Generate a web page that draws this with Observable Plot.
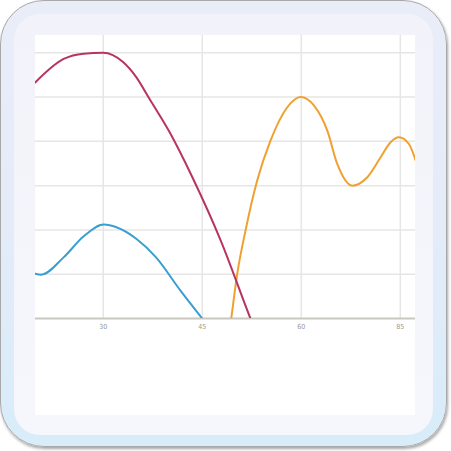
<!DOCTYPE html>
<html>
<head>
<meta charset="utf-8">
<script src="https://cdn.jsdelivr.net/npm/d3@7"></script>
<script src="https://cdn.jsdelivr.net/npm/@observablehq/plot@0.6"></script>
<style>
  html, body { margin: 0; padding: 0; background: #ffffff; width: 451px; height: 451px; overflow: hidden; }
  #outer {
    position: absolute; left: 0; top: 0; width: 445px; height: 445px;
    border-radius: 44px; border: 1px solid #a8a8a8;
    box-shadow: 1px 2px 3px rgba(0,0,0,0.35);
    background: linear-gradient(to bottom, #eaedf8 0%, #e4ecf8 50%, #d8ecfa 100%);
  }
  #inner {
    position: absolute; left: 14px; top: 14px; width: 419px; height: 421px;
    border-radius: 26px;
    background: linear-gradient(to bottom, #f2f3fa, #f6f7fc);
  }
  #chart { position: absolute; left: 35px; top: 35px; width: 380px; height: 380px; background: #ffffff; }
  #chart svg { display: block; }
</style>
</head>
<body>
<div id="outer"></div>
<div id="inner"></div>
<div id="chart"></div>
<script>
const tickValues = [30, 45, 60, 75];
const tickLabels = ["30", "45", "60", "85"];
const gridY = [10, 20, 30, 40, 50, 60];

const redX = [19.7, 24, 27, 30, 33, 35, 37, 40, 43.5, 47.8, 52.3, 55];
const redY = [53.3, 58.6, 59.8, 60, 57.9, 54.5, 49.6, 42.2, 31.9, 17.6, 0, -10];

const blueX = [19.7, 20.6, 24, 27, 30.1, 32, 35, 38, 41.7, 45, 47];
const blueY = [10.1, 9.9, 13.8, 18.5, 21.2, 20.6, 18.0, 13.8, 6.3, 0, -3.8];

const orangeX = [48.98, 49.39, 50.3, 51.56, 53.33, 55.35, 57.88, 59.89, 61.91, 63.94, 65.45, 67.73, 70, 72.02, 73.53, 74.79, 76.3, 77.32];
const orangeY = [-4.5, 0, 10.1, 19.9, 31.2, 40.2, 47.7, 50, 48.1, 42.4, 34.9, 30, 31.9, 36.4, 39.8, 40.9, 39.4, 35.7];

const toRows = (xs, ys) => xs.map((x, i) => ({x, y: ys[i]}));
const red = toRows(redX, redY);
const blue = toRows(blueX, blueY);
const orange = toRows(orangeX, orangeY);

const plot = Plot.plot({
  width: 380,
  height: 380,
  marginTop: 0,
  marginLeft: 0,
  marginRight: 0,
  marginBottom: 97,
  x: {domain: [19.74, 77.3], axis: null},
  y: {domain: [0, 63.9], axis: null},
  style: {background: "#ffffff", fontFamily: "'Liberation Sans Narrow', 'DejaVu Sans Condensed', sans-serif"},
  marks: [
    Plot.ruleY(gridY, {stroke: "#e6e6e6", strokeWidth: 1.5}),
    Plot.ruleX(tickValues, {y1: 0, y2: 63.9, stroke: "#e6e6e6", strokeWidth: 1.5}),
    Plot.ruleY([0], {stroke: "#c8c8c0", strokeWidth: 2}),
    Plot.line(blue, {x: "x", y: "y", stroke: "#3a9fd0", strokeWidth: 2, curve: "monotone-x", clip: true}),
    Plot.line(orange, {x: "x", y: "y", stroke: "#f0a030", strokeWidth: 2, curve: "monotone-x", clip: true}),
    Plot.line(red, {x: "x", y: "y", stroke: "#b83460", strokeWidth: 2, curve: "monotone-x", clip: true}),
    Plot.axisX(tickValues, {
      label: null,
      tickSize: 0, tickPadding: 6, fontSize: 7, fill: "#999999",
      tickFormat: (d) => tickLabels[tickValues.indexOf(d)]
    })
  ]
});
document.getElementById("chart").appendChild(plot);
</script>
</body>
</html>
